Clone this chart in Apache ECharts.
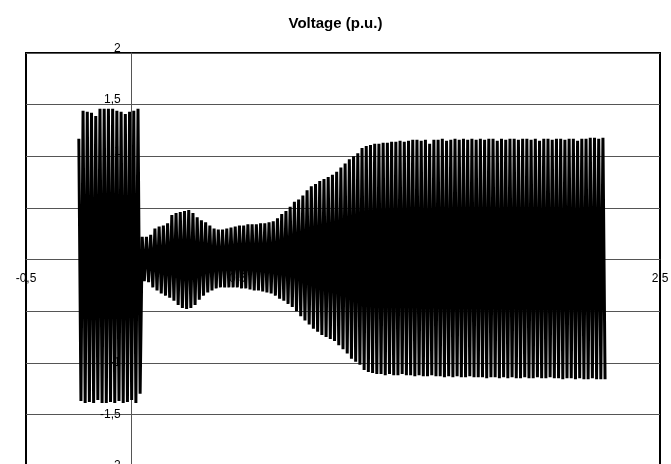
<!DOCTYPE html>
<html>
<head>
<meta charset="utf-8">
<script src="https://cdn.jsdelivr.net/npm/echarts@6/dist/echarts.min.js"></script>
<style>html,body{margin:0;padding:0;background:#fff}#c{width:671px;height:464px}</style>
</head>
<body>
<div id="c"></div>
<script>
// Sampling of the waveform: one positive and one negative peak per cycle
const cycleStart = -0.25;   // s, first positive peak
const cyclePeriod = 0.02;   // s (50 Hz)

// Positive peak of each cycle (p.u.)
const topPeaks = [
  1.17, 1.44, 1.43, 1.42, 1.39, 1.46, 1.46, 1.46, 1.46, 1.44, 1.43, 1.41, 1.43, 1.44, 1.46,
  0.22, 0.22, 0.24, 0.30, 0.32, 0.33, 0.35, 0.43, 0.45, 0.46,
  0.47, 0.48, 0.45, 0.41, 0.38, 0.36, 0.33, 0.30, 0.29, 0.29,
  0.30, 0.31, 0.32, 0.33, 0.33, 0.34, 0.34, 0.34, 0.35, 0.35,
  0.36, 0.37, 0.40, 0.44, 0.47, 0.51, 0.56, 0.58, 0.62, 0.67,
  0.71, 0.73, 0.76, 0.78, 0.80, 0.82, 0.85, 0.89, 0.93, 0.97,
  1.00, 1.03, 1.08, 1.10, 1.11, 1.12, 1.12, 1.13, 1.13, 1.14,
  1.14, 1.15, 1.14, 1.15, 1.16, 1.16, 1.15, 1.16, 1.12, 1.16,
  1.16, 1.17, 1.15, 1.16, 1.17, 1.16, 1.17, 1.16, 1.17, 1.16,
  1.17, 1.16, 1.17, 1.17, 1.15, 1.17, 1.16, 1.17, 1.17, 1.16,
  1.17, 1.17, 1.16, 1.17, 1.15, 1.17, 1.17, 1.16, 1.17, 1.17,
  1.16, 1.17, 1.17, 1.15, 1.17, 1.17, 1.18, 1.18, 1.17, 1.18
];
// Negative peak of each cycle (p.u.)
const bottomPeaks = [
  -1.37, -1.39, -1.38, -1.39, -1.36, -1.39, -1.39, -1.38, -1.39, -1.37, -1.39, -1.38, -1.36, -1.39, -1.30,
  -0.21, -0.22, -0.27, -0.30, -0.33, -0.35, -0.37, -0.40, -0.44, -0.47,
  -0.48, -0.47, -0.44, -0.39, -0.35, -0.32, -0.30, -0.28, -0.27, -0.27,
  -0.27, -0.27, -0.27, -0.28, -0.28, -0.29, -0.30, -0.30, -0.31, -0.32,
  -0.33, -0.35, -0.38, -0.40, -0.43, -0.46, -0.50, -0.55, -0.59, -0.63,
  -0.67, -0.70, -0.73, -0.75, -0.77, -0.79, -0.83, -0.87, -0.91, -0.96,
  -0.99, -1.02, -1.07, -1.09, -1.10, -1.11, -1.11, -1.12, -1.11, -1.12,
  -1.12, -1.11, -1.12, -1.12, -1.13, -1.12, -1.13, -1.13, -1.12, -1.13,
  -1.13, -1.14, -1.13, -1.14, -1.13, -1.14, -1.14, -1.13, -1.14, -1.14,
  -1.14, -1.15, -1.14, -1.14, -1.15, -1.14, -1.15, -1.14, -1.15, -1.15,
  -1.14, -1.15, -1.15, -1.14, -1.15, -1.15, -1.14, -1.15, -1.15, -1.16,
  -1.15, -1.15, -1.16, -1.15, -1.16, -1.16, -1.15, -1.16, -1.16, -1.16
];

const xTicks = { min: -0.5, max: 2.5, interval: 0.5 };
const yTicks = { min: -2, max: 2, interval: 0.5 };

const wave = [];
for (let i = 0; i < topPeaks.length; i++) {
  const t = cycleStart + i * cyclePeriod;
  wave.push([t, topPeaks[i]]);
  wave.push([t + cyclePeriod / 2, bottomPeaks[i]]);
}

const fmt = v => String(v).replace('.', ',');
const font = 'Liberation Sans, Arial, sans-serif';

// grid geometry (pixels)
const G = { left: 26, right: 11, top: 53, height: 413 };
const W = 671 - G.left - G.right;
// shift the axes so they cross at the origin (labels travel with them)
const yAxisOffset = -W * (0 - xTicks.min) / (xTicks.max - xTicks.min);
const xAxisOffset = -G.height * (0 - yTicks.min) / (yTicks.max - yTicks.min);

const chart = echarts.init(document.getElementById('c'), null, { renderer: 'canvas' });
chart.setOption({
  animation: false,
  backgroundColor: '#fff',
  title: {
    text: 'Voltage (p.u.)',
    left: 'center',
    top: 11,
    textStyle: { fontFamily: font, fontSize: 15, fontWeight: 'bold', color: '#000' }
  },
  grid: {
    left: G.left, right: G.right, top: G.top, height: G.height,
    show: true, borderColor: '#000', borderWidth: 2,
    containLabel: false, outerBoundsMode: 'none'
  },
  xAxis: {
    type: 'value',
    position: 'bottom',
    offset: xAxisOffset,
    min: xTicks.min, max: xTicks.max, interval: xTicks.interval,
    axisLine: { show: true, onZero: false, lineStyle: { color: '#555', width: 1 } },
    axisTick: { show: false },
    splitLine: { show: false },
    axisLabel: {
      show: true, showMinLabel: true, showMaxLabel: true, hideOverlap: false,
      margin: 13, color: '#000', fontFamily: font, fontSize: 12,
      formatter: fmt
    }
  },
  yAxis: {
    type: 'value',
    position: 'left',
    offset: yAxisOffset,
    min: yTicks.min, max: yTicks.max, interval: yTicks.interval,
    axisLine: { show: true, onZero: false, lineStyle: { color: '#555', width: 1 } },
    axisTick: { show: false },
    splitLine: { show: true, lineStyle: { color: '#555', width: 1 } },
    axisLabel: {
      show: true, showMinLabel: true, showMaxLabel: true, hideOverlap: false,
      margin: 11, color: '#000', fontFamily: font, fontSize: 12,
      verticalAlign: 'middle',
      formatter: v => v > 0 ? '{up|' + fmt(v) + '}' : fmt(v),
      rich: { up: { fontFamily: font, fontSize: 12, color: '#000', padding: [0, 0, 9, 0] } }
    }
  },
  series: [{
    type: 'line',
    data: wave,
    showSymbol: false,
    symbol: 'none',
    z: 5,
    lineStyle: { color: '#000', width: 3 },
    silent: true
  }]
});
</script>
</body>
</html>
